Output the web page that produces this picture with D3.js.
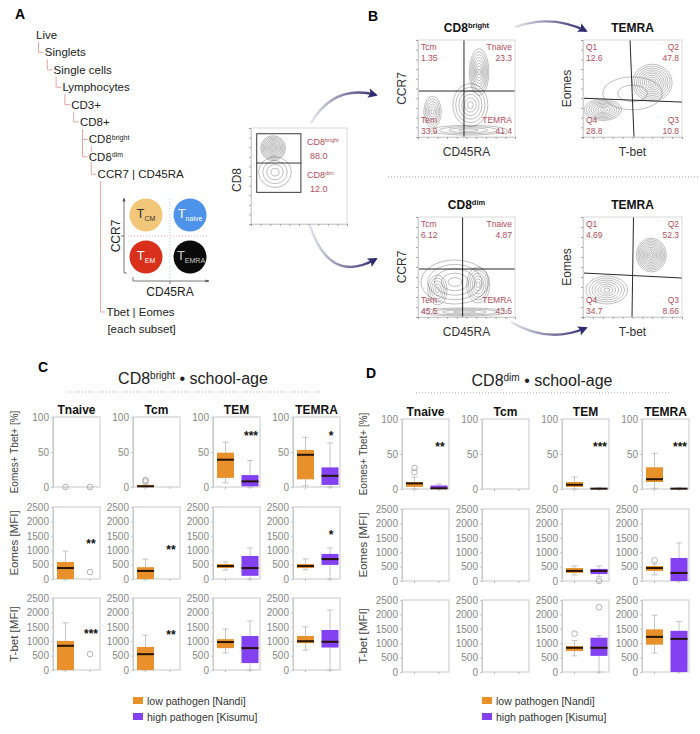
<!DOCTYPE html>
<html lang="en">
<head>
<meta charset="UTF-8">
<title>CD8 subsets - school-age</title>
<script src="https://cdn.jsdelivr.net/npm/d3@7"></script>
<style>
  body { margin: 0; background: #fff; }
  text { font-family: "Liberation Sans", Arial, sans-serif; }
</style>
</head>
<body>
<svg id="fig" width="700" height="734"></svg>
<script>
// ---------- data ----------
var subsets = ["Tnaive", "Tcm", "TEM", "TEMRA"];
var rowTitles = ["Eomes+ Tbet+ [%]", "Eomes [MFI]", "T-bet [MFI]"];
var pctTicks = [0, 50, 100];
var mfiTicks = [0, 500, 1000, 1500, 2000, 2500];
var groups = ["low pathogen [Nandi]", "high pathogen [Kisumu]"];
var groupColors = ["#e8912b", "#8441f2"];

// box stats [min, q1, median, q3, max] for [low, high] in each subset
var brightPct = [
  [null, null],
  [[0, 0, 1, 3, 4], null],
  [[6, 13, 39, 49, 64], [0, 1, 8, 17, 38]],
  [[2, 11, 46, 53, 71], [0, 3, 16, 28, 63]]
];
var brightEomes = [
  [[0, 0, 380, 590, 970], null],
  [[0, 0, 280, 410, 690], null],
  [[310, 380, 450, 520, 600], [0, 110, 380, 800, 1080]],
  [[320, 380, 450, 520, 700], [0, 490, 690, 870, 1080]]
];
var brightTbet = [
  [[0, 0, 840, 1010, 1640], null],
  [[0, 0, 550, 800, 1210], null],
  [[590, 760, 970, 1070, 1420], [0, 240, 760, 1180, 1700]],
  [[690, 930, 1000, 1180, 1500], [0, 780, 980, 1390, 2080]]
];
var brightPctOut = [[[0], [0]], [[8, 10], []], [[], []], [[], []]];
var brightEomesOut = [[[], [240]], [[], []], [[], []], [[], []]];
var brightTbetOut = [[[], [550]], [[], []], [[], []], [[], []]];
var brightStars = [["", "", "***", "*"], ["**", "**", "", "*"], ["***", "**", "", ""]];
var brightStarAt = [[0, 0, 76, 76], [1280, 1080, 0, 1600], [1320, 1280, 0, 0]];

var dimPct = [
  [[0, 3, 8, 10, 17], [0, 0, 1, 5, 7]],
  [null, null],
  [[0, 3, 6, 10, 17], [0, 0, 0.5, 1, 2]],
  [[1, 10, 14, 31, 51], [0, 0, 0.5, 1, 2]]
];
var dimEomes = [
  [null, null],
  [null, null],
  [[210, 280, 350, 450, 520], [150, 240, 350, 420, 520]],
  [[210, 350, 450, 520, 590], [0, 0, 280, 800, 1320]]
];
var dimTbet = [
  [null, null],
  [null, null],
  [[560, 730, 840, 900, 1090], [0, 560, 840, 1190, 1260]],
  [[660, 950, 1220, 1480, 1970], [0, 0, 1150, 1430, 1750]]
];
var dimPctOut = [[[24, 30], []], [[], []], [[], []], [[], []]];
var dimEomesOut = [[[], []], [[], []], [[], [0]], [[720], []]];
var dimTbetOut = [[[], []], [[], []], [[1330], [2250]], [[], []]];
var dimStars = [["**", "", "***", "***"], ["", "", "", ""], ["", "", "", ""]];
var dimStarAt = [[63, 0, 63, 63], [0, 0, 0, 0], [0, 0, 0, 0]];

// flow panels: gate names, percentages, gate lines [xTop, xBottom, yLeft, yRight]
var subsetGates = ["Tcm", "Tnaive", "Tem", "TEMRA"];
var quadGates = ["Q1", "Q2", "Q4", "Q3"];
var brightSubsetPct = ["1.35", "23.3", "33.9", "41.4"];
var brightTemraPct = ["12.6", "47.8", "28.8", "10.8"];
var dimSubsetPct = ["6.12", "4.87", "45.5", "43.5"];
var dimTemraPct = ["4.69", "52.3", "34.7", "8.66"];
var cd8GatePct = ["88.0", "12.0"];
var gateBrightSubsets = [47.4, 47.4, 47.4, 47.4];
var gateBrightTemra = [47.5, 51.5, 40, 36];
var gateDimSubsets = [46, 46, 48, 48];
var gateDimTemra = [51, 49.5, 44, 39];
// cell populations [x, y, spreadX, spreadY, contour levels] in axis units
var popBrightSubsets = [[63, 67, 10, 24, 8], [54, 33, 18, 22, 6], [15, 26, 9, 16, 6], [52, 7, 40, 5, 4]];
var popBrightTemra = [[70, 56, 20, 19, 10], [20, 28, 19, 11, 8], [50, 45, 30, 17, 2]];
var popDimSubsets = [[38, 35, 35, 22, 5], [62, 32, 12, 18, 6], [20, 27, 10, 15, 5], [48, 5, 45, 4, 4]];
var popDimTemra = [[69, 62, 15, 17, 11], [24, 27, 21, 14, 7]];
var popCd8 = [[23, 79, 13, 13, 10], [25, 54, 17, 16, 4]];

var treeLabels = ["Live", "Singlets", "Single cells", "Lymphocytes", "CD3+", "CD8+", "CD8^bright", "CD8^dim", "CCR7 | CD45RA"];
var treeDepth = [0, 1, 2, 3, 4, 5, 6, 6, 7];
var treeParent = [-1, 0, 1, 2, 3, 4, 5, 5, 6];
var quadNames = [["T", "CM"], ["T", "naive"], ["T", "EM"], ["T", "EMRA"]];
var quadColors = ["#f2c77a", "#4d93ea", "#d9301c", "#0a0a0a"];

// ---------- drawing ----------
var svg = d3.select("#fig");
var gateRed = "#b14e5b";
var treeRed = "#e3a7a7";

// "CD8^bright" -> CD8 with raised "bright"
function supText(sel, label, size) {
  var parts = label.split("^");
  sel.append("tspan").text(parts[0]);
  if (parts[1]) sel.append("tspan").attr("font-size", size).attr("dy", -size * 0.55).text(parts[1]);
  return parts[1] ? size * 0.55 : 0;
}

// panel letters
[["A", 15, 19], ["B", 368, 21], ["C", 38, 372], ["D", 366, 378]].forEach(function (d) {
  svg.append("text").attr("x", d[1]).attr("y", d[2]).attr("font-size", 14)
    .attr("font-weight", "bold").text(d[0]);
});

// ---- A: gating tree
var treeX = function (i) { return 36 + treeDepth[i] * 8.8; };
var treeY = function (i) { return 39 + i * 17.4; };
treeLabels.forEach(function (lab, i) {
  var p = treeParent[i];
  if (p >= 0) {
    svg.append("path").attr("fill", "none").attr("stroke", treeRed).attr("stroke-width", 1)
      .attr("d", "M" + (treeX(p) + 2.5) + "," + (treeY(p) + 3) + "V" + (treeY(i) - 4) + "H" + (treeX(i) - 1));
  }
});
treeLabels.forEach(function (lab, i) {
  var t = svg.append("text").attr("x", treeX(i)).attr("y", treeY(i)).attr("font-size", 11.5)
    .attr("fill", "#222").attr("stroke", "#fff").attr("stroke-width", 3).attr("paint-order", "stroke");
  supText(t, lab, 7);
});
var tbetX = 36 + 8 * 8.8, tbetY = 316;
svg.append("path").attr("fill", "none").attr("stroke", treeRed)
  .attr("d", "M" + (treeX(8) + 3) + "," + (treeY(8) + 3) + "V" + (tbetY - 4) + "H" + (tbetX - 1));
svg.append("text").attr("x", tbetX).attr("y", tbetY).attr("font-size", 11.5).attr("fill", "#222").text("Tbet | Eomes");
svg.append("text").attr("x", tbetX + 1).attr("y", tbetY + 17).attr("font-size", 11.5).attr("fill", "#222").text("[each subset]");

// quadrant scheme
var qx = d3.scaleBand().domain(["-", "+"]).range([124, 212]);
var qy = d3.scaleBand().domain(["+", "-"]).range([194, 278]);
var quadKeys = [["-", "+"], ["+", "+"], ["-", "-"], ["+", "-"]];
svg.append("line").attr("x1", 170).attr("x2", 170).attr("y1", 199).attr("y2", 279)
  .attr("stroke", "#9fd3e6").attr("stroke-dasharray", "1,2");
svg.append("line").attr("x1", 128).attr("x2", 208).attr("y1", 236).attr("y2", 236)
  .attr("stroke", "#e9a9b0").attr("stroke-dasharray", "1,2");
quadKeys.forEach(function (k, i) {
  var cx = qx(k[0]) + qx.bandwidth() / 2, cy = qy(k[1]) + qy.bandwidth() / 2;
  svg.append("circle").attr("cx", cx).attr("cy", cy).attr("r", 16.5).attr("fill", quadColors[i]);
  var t = svg.append("text").attr("x", cx + (i === 3 ? 1 : 0)).attr("y", cy + 3).attr("text-anchor", "middle")
    .attr("fill", i === 0 ? "#333" : (i === 3 ? "#ccc" : "#fff"));
  t.append("tspan").attr("font-size", 13).text(quadNames[i][0]);
  t.append("tspan").attr("font-size", 7).attr("dy", 3).text(quadNames[i][1]);
});
svg.append("defs").html(
  '<marker id="tip" viewBox="0 0 10 10" refX="9" refY="5" markerWidth="5" markerHeight="5" orient="auto">' +
  '<path d="M0,1L10,5L0,9z" fill="#555"/></marker>' +
  '<marker id="navy" viewBox="0 0 10 10" refX="8" refY="5" markerWidth="4" markerHeight="4" orient="auto">' +
  '<path d="M0,0L10,5L0,10L2,5z" fill="#2f2b70"/></marker>');
svg.append("path").attr("d", "M127,273H124V198").attr("fill", "none").attr("stroke", "#555").attr("stroke-width", 0.8).attr("marker-end", "url(#tip)");
svg.append("path").attr("d", "M133,277V281H209").attr("fill", "none").attr("stroke", "#555").attr("stroke-width", 0.8).attr("marker-end", "url(#tip)");
svg.append("line").attr("x1", 121).attr("x2", 124).attr("y1", 236).attr("y2", 236).attr("stroke", "#555").attr("stroke-width", 0.8);
svg.append("line").attr("x1", 170).attr("x2", 170).attr("y1", 281).attr("y2", 284).attr("stroke", "#555").attr("stroke-width", 0.8);
svg.append("text").attr("transform", "translate(120,236) rotate(-90)").attr("text-anchor", "middle")
  .attr("font-size", 12).attr("fill", "#222").text("CCR7");
svg.append("text").attr("x", 170).attr("y", 296).attr("text-anchor", "middle")
  .attr("font-size", 12).attr("fill", "#222").text("CD45RA");

// ---- flow plots
var clipCount = 0;
function flowPlot(box, pops, gateLines) {
  var x = box[0], y = box[1], w = box[2], h = box[3];
  var xs = d3.scaleLinear().domain([0, 100]).range([x, x + w]);
  var ys = d3.scaleLinear().domain([0, 100]).range([y + h, y]);
  var id = "clip" + (clipCount++);
  svg.append("clipPath").attr("id", id).append("rect").attr("x", x).attr("y", y).attr("width", w).attr("height", h);
  var g = svg.append("g").attr("clip-path", "url(#" + id + ")");
  pops.forEach(function (b) {
    d3.range(1, b[4] + 1).forEach(function (k) {
      g.append("ellipse").attr("cx", xs(b[0])).attr("cy", ys(b[1]))
        .attr("rx", (xs(b[2]) - xs(0)) * k / b[4]).attr("ry", (ys(0) - ys(b[3])) * k / b[4])
        .attr("fill", "none").attr("stroke", "#3a3a3a").attr("stroke-width", 0.55).attr("opacity", 0.6);
    });
  });
  if (gateLines) {
    g.append("line").attr("x1", xs(gateLines[0])).attr("y1", y).attr("x2", xs(gateLines[1])).attr("y2", y + h)
      .attr("stroke", "#111").attr("stroke-width", 0.9);
    g.append("line").attr("x1", x).attr("y1", ys(gateLines[2])).attr("x2", x + w).attr("y2", ys(gateLines[3]))
      .attr("stroke", "#111").attr("stroke-width", 0.9);
  }
  svg.append("rect").attr("x", x).attr("y", y).attr("width", w).attr("height", h)
    .attr("fill", "none").attr("stroke", "#cfcfcf").attr("stroke-width", 0.8);
  var ax = svg.append("g").attr("transform", "translate(" + x + ",0)")
    .call(d3.axisLeft(ys).ticks(12).tickSize(2).tickFormat(""));
  var bx = svg.append("g").attr("transform", "translate(0," + (y + h) + ")")
    .call(d3.axisBottom(xs).ticks(12).tickSize(2).tickFormat(""));
  [ax, bx].forEach(function (a) {
    a.select(".domain").attr("stroke", "#cfcfcf");
    a.selectAll(".tick line").attr("stroke", "#777").attr("stroke-width", 0.6);
  });
  return { xs: xs, ys: ys };
}

function flowLabels(box, names, values, title, xLab, yLab) {
  var x = box[0], y = box[1], w = box[2], h = box[3];
  var spots = [[x + 3, y + 10, "start"], [x + w - 3, y + 10, "end"], [x + 3, y + h - 14, "start"], [x + w - 3, y + h - 14, "end"]];
  spots.forEach(function (s, i) {
    svg.append("text").attr("x", s[0]).attr("y", s[1]).attr("text-anchor", s[2])
      .attr("font-size", 8.5).attr("fill", gateRed).text(names[i]);
    svg.append("text").attr("x", s[0]).attr("y", s[1] + 11).attr("text-anchor", s[2])
      .attr("font-size", 8.5).attr("fill", gateRed).text(values[i]);
  });
  var t = svg.append("text").attr("x", x + w / 2).attr("y", y - 8).attr("text-anchor", "middle")
    .attr("font-size", 12).attr("font-weight", "bold").attr("fill", "#111");
  supText(t, title, 7.5);
  svg.append("text").attr("x", x + w / 2).attr("y", y + h + 19).attr("text-anchor", "middle")
    .attr("font-size", 12).attr("fill", "#333").text(xLab);
  svg.append("text").attr("transform", "translate(" + (x - 12) + "," + (y + h / 2) + ") rotate(-90)")
    .attr("text-anchor", "middle").attr("font-size", 12).attr("fill", "#333").text(yLab);
}

var boxBS = [418, 40, 97, 97], boxBT = [583, 40, 99, 97];
var boxDS = [418, 217, 97, 100], boxDT = [583, 217, 99, 100];
flowPlot(boxBS, popBrightSubsets, gateBrightSubsets);
flowLabels(boxBS, subsetGates, brightSubsetPct, "CD8^bright", "CD45RA", "CCR7");
flowPlot(boxBT, popBrightTemra, gateBrightTemra);
flowLabels(boxBT, quadGates, brightTemraPct, "TEMRA", "T-bet", "Eomes");
flowPlot(boxDS, popDimSubsets, gateDimSubsets);
flowLabels(boxDS, subsetGates, dimSubsetPct, "CD8^dim", "CD45RA", "CCR7");
flowPlot(boxDT, popDimTemra, gateDimTemra);
flowLabels(boxDT, quadGates, dimTemraPct, "TEMRA", "T-bet", "Eomes");

// CD8 parent plot
var cd8 = flowPlot([251, 128, 96, 96], popCd8, null);
svg.append("rect").attr("x", cd8.xs(6)).attr("y", cd8.ys(94)).attr("width", cd8.xs(52) - cd8.xs(6))
  .attr("height", cd8.ys(33) - cd8.ys(94)).attr("fill", "none").attr("stroke", "#222").attr("stroke-width", 0.9);
svg.append("line").attr("x1", cd8.xs(6)).attr("x2", cd8.xs(52)).attr("y1", cd8.ys(63.5)).attr("y2", cd8.ys(63.5))
  .attr("stroke", "#222").attr("stroke-width", 0.9);
["CD8^bright", "CD8^dim"].forEach(function (lab, i) {
  var t = svg.append("text").attr("x", 307).attr("y", 145 + i * 33).attr("font-size", 9).attr("fill", gateRed);
  supText(t, lab, 5.5);
  svg.append("text").attr("x", 310).attr("y", 159 + i * 33).attr("font-size", 9).attr("fill", gateRed).text(cd8GatePct[i]);
});
svg.append("text").attr("transform", "translate(241,180) rotate(-90)").attr("text-anchor", "middle")
  .attr("font-size", 12).attr("fill", "#333").text("CD8");

// arrows between plots
var arcs = [
  ["M311,123 Q334,84 376,95", 311, 376],
  ["M310,226 Q330,285 376,259", 310, 376],
  ["M515,27 Q552,14 586,31", 515, 586],
  ["M511,322 Q548,344 586,328", 511, 586]
];
var defs = svg.select("defs");
arcs.forEach(function (a, i) {
  var gr = defs.append("linearGradient").attr("id", "arc" + i).attr("gradientUnits", "userSpaceOnUse")
    .attr("x1", a[1]).attr("x2", a[2]).attr("y1", 0).attr("y2", 0);
  gr.append("stop").attr("offset", "0").attr("stop-color", "#e4e4ea");
  gr.append("stop").attr("offset", "1").attr("stop-color", "#2f2b70");
  svg.append("path").attr("d", a[0]).attr("fill", "none").attr("stroke", "url(#arc" + i + ")")
    .attr("stroke-width", 2.4).attr("marker-end", "url(#navy)");
});
svg.append("line").attr("x1", 388).attr("x2", 698).attr("y1", 177).attr("y2", 177)
  .attr("stroke", "#999").attr("stroke-dasharray", "1,2");

// ---- C / D box plots
var rowTop = [417, 507, 598], rowH = [70, 72, 72];
var frameW = 47, colStep = 80, boxW = 17, groupOff = [12.5, 37];

function boxPanel(x0, dy, title, rows, outs, stars, starAt) {
  var t = svg.append("text").attr("x", x0 + 140).attr("y", 384 + dy).attr("text-anchor", "middle")
    .attr("font-size", 16).attr("fill", "#222");
  var lift = supText(t, title, 10);
  t.append("tspan").attr("dy", lift).text(" \u2022 school-age");
  svg.append("line").attr("x1", x0 + 14).attr("x2", x0 + 269).attr("y1", 392 + dy * 0.4).attr("y2", 392 + dy * 0.4)
    .attr("stroke", "#aaa").attr("stroke-dasharray", "1,2");
  subsets.forEach(function (s, c) {
    svg.append("text").attr("x", x0 + c * colStep + frameW / 2).attr("y", 414 + dy)
      .attr("text-anchor", "middle").attr("font-size", 12).attr("font-weight", "bold").attr("fill", "#111").text(s);
  });
  rows.forEach(function (stats, r) {
    var top = rowTop[r] + dy, bottom = top + rowH[r];
    var y = d3.scaleLinear().domain([0, r === 0 ? 100 : 2500]).range([bottom, top]);
    svg.append("text").attr("transform", "translate(" + (x0 - 35) + "," + (top + rowH[r] / 2) + ") rotate(-90)")
      .attr("text-anchor", "middle").attr("font-size", r === 0 ? 10 : 11.5).attr("fill", "#444").text(rowTitles[r]);
    stats.forEach(function (pair, c) {
      var fx = x0 + c * colStep;
      svg.append("rect").attr("x", fx).attr("y", top).attr("width", frameW).attr("height", rowH[r])
        .attr("fill", "none").attr("stroke", "#c8c8c8").attr("stroke-width", 1);
      var ax = svg.append("g").attr("transform", "translate(" + fx + ",0)")
        .call(d3.axisLeft(y).tickValues(r === 0 ? pctTicks : mfiTicks).tickFormat(d3.format("d"))
          .tickSize(2).tickPadding(2));
      ax.select(".domain").attr("stroke", "#c8c8c8");
      ax.selectAll(".tick line").attr("stroke", "#c8c8c8");
      ax.selectAll(".tick text").attr("font-size", 10).attr("fill", "#888")
        .attr("font-family", '"Liberation Sans", Arial, sans-serif');
      groupOff.forEach(function (off, gi) {
        var cx = fx + off, b = pair[gi];
        svg.append("line").attr("x1", cx).attr("x2", cx).attr("y1", bottom).attr("y2", bottom + 2)
          .attr("stroke", "#bbb");
        if (b) {
          svg.append("line").attr("x1", cx).attr("x2", cx).attr("y1", y(b[0])).attr("y2", y(b[4]))
            .attr("stroke", "#b8b8b8").attr("stroke-width", 0.8);
          [b[0], b[4]].forEach(function (v) {
            svg.append("line").attr("x1", cx - 3).attr("x2", cx + 3).attr("y1", y(v)).attr("y2", y(v))
              .attr("stroke", "#b8b8b8").attr("stroke-width", 0.8);
          });
          svg.append("rect").attr("x", cx - boxW / 2).attr("y", y(b[3])).attr("width", boxW)
            .attr("height", Math.max(y(b[1]) - y(b[3]), 0.8)).attr("fill", groupColors[gi]);
          svg.append("line").attr("x1", cx - boxW / 2).attr("x2", cx + boxW / 2).attr("y1", y(b[2])).attr("y2", y(b[2]))
            .attr("stroke", "#24140a").attr("stroke-width", 2);
        }
        outs[r][c][gi].forEach(function (v) {
          svg.append("circle").attr("cx", cx).attr("cy", y(v)).attr("r", 2.8)
            .attr("fill", "none").attr("stroke", "#a0a0a0").attr("stroke-width", 0.8);
        });
      });
      if (stars[r][c]) {
        svg.append("text").attr("x", fx + 38).attr("y", y(starAt[r][c]) + 6).attr("text-anchor", "middle")
          .attr("font-size", 12).attr("font-weight", "bold").attr("fill", "#111").text(stars[r][c]);
      }
    });
  });
  groups.forEach(function (gname, gi) {
    svg.append("rect").attr("x", x0 + 80).attr("y", 697 + gi * 16).attr("width", 10).attr("height", 7)
      .attr("fill", groupColors[gi]);
    svg.append("text").attr("x", x0 + 94).attr("y", 705 + gi * 16).attr("font-size", 10.5)
      .attr("fill", "#333").text(gname);
  });
}

boxPanel(53, 0, "CD8^bright", [brightPct, brightEomes, brightTbet],
  [brightPctOut, brightEomesOut, brightTbetOut], brightStars, brightStarAt);
boxPanel(402, 2, "CD8^dim", [dimPct, dimEomes, dimTbet],
  [dimPctOut, dimEomesOut, dimTbetOut], dimStars, dimStarAt);
</script>
</body>
</html>
